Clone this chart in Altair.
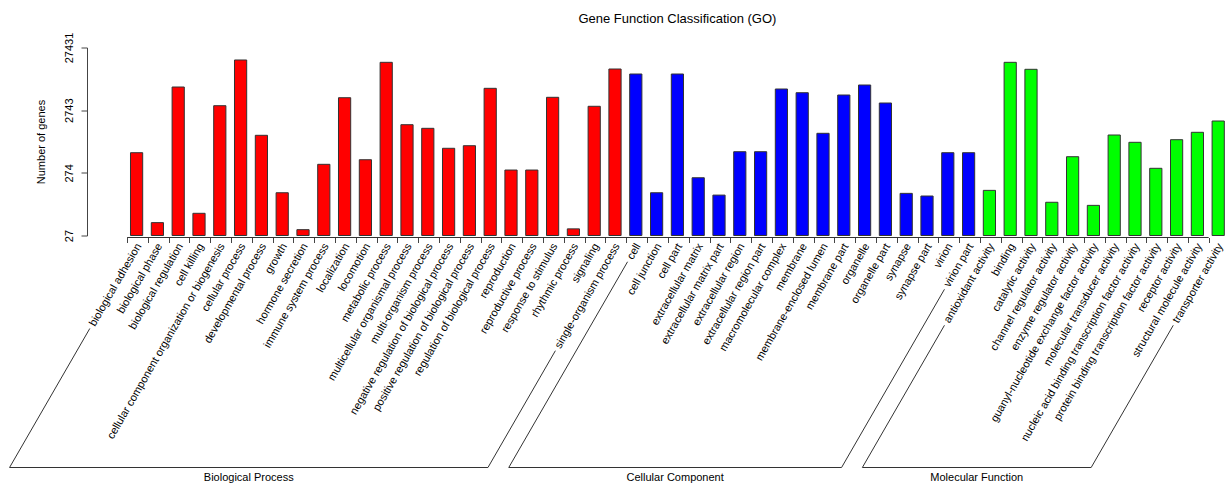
import math
import altair as alt
import pandas as pd

# ---------------- data ----------------
bp_names = [
    "biological adhesion", "biological phase", "biological regulation", "cell killing",
    "cellular component organization or biogenesis", "cellular process", "developmental process",
    "growth", "hormone secretion", "immune system process", "localization", "locomotion",
    "metabolic process", "multicellular organismal process", "multi-organism process",
    "negative regulation of biological process", "positive regulation of biological process",
    "regulation of biological process", "reproduction", "reproductive process",
    "response to stimulus", "rhythmic process", "signaling", "single-organism process",
]
bp_counts = [575, 44, 6425, 62, 3232, 17330, 1089, 132, 34, 375, 4335, 444,
             15916, 1608, 1408, 676, 743, 6123, 304, 304, 4400, 35, 3163, 12449]

cc_names = [
    "cell", "cell junction", "cell part", "extracellular matrix", "extracellular matrix part",
    "extracellular region", "extracellular region part", "macromolecular complex", "membrane",
    "membrane-enclosed lumen", "membrane part", "organelle", "organelle part", "synapse",
    "synapse part", "virion", "virion part",
]
cc_counts = [10358, 132, 10358, 229, 121, 596, 596, 5969, 5209, 1172, 4787, 6913, 3569,
             129, 117, 575, 575]

mf_names = [
    "antioxidant activity", "binding", "catalytic activity", "channel regulator activity",
    "enzyme regulator activity", "guanyl-nucleotide exchange factor activity",
    "molecular transducer activity", "nucleic acid binding transcription factor activity",
    "protein binding transcription factor activity", "receptor activity",
    "structural molecule activity", "transporter activity",
]
mf_counts = [144, 15916, 12308, 93, 496, 83, 1101, 842, 324, 927, 1216, 1842]

group_names = ["Biological Process", "Cellular Component", "Molecular Function"]
group_colors = ["#FF0000", "#0000FF", "#00FF00"]
y_tick_values = [27.431, 274.31, 2743.1, 27431.0]
title_text = "Gene Function Classification (GO)"
y_title = "Number of genes"

# ---------------- table ----------------
names = bp_names + cc_names + mf_names
counts = bp_counts + cc_counts + mf_counts
groups = ([group_names[0]] * len(bp_names) + [group_names[1]] * len(cc_names)
          + [group_names[2]] * len(mf_names))
n = len(names)
df = pd.DataFrame({"name": names, "count": counts, "group": groups})

# ---------------- layout / style ----------------
FONT = "Liberation Sans"
W, H = 1102.8, 188
PAD = {"left": 126, "top": 47.5, "right": 1232 - 126 - W, "bottom": 487 - 47.5 - H}
P_IN, P_OUT = 0.4135, 0.2163
step = W / (n - P_IN + 2 * P_OUT)
TICK_SHIFT = -9.5      # px, tick relative to bar centre
LABEL_SHIFT = 11.5     # px, label anchor relative to tick
X_AX_OFF = 2
TICK_SIZE = 5
LABEL_PAD = 1.5
LABEL_FS = 11
ANG = math.radians(60)
BRACKET_Y = 420        # px below plot top
GAP = 4
AXIS_COL = "#444444"

AFM = {" ": 278, "a": 556, "b": 556, "c": 500, "d": 556, "e": 556, "f": 278, "g": 556,
       "h": 556, "i": 222, "j": 222, "k": 500, "l": 222, "m": 833, "n": 556, "o": 556,
       "p": 556, "q": 556, "r": 333, "s": 500, "t": 278, "u": 556, "v": 500, "w": 722,
       "x": 500, "y": 500, "z": 500, "-": 333}


def text_w(s, fs):
    return sum(AFM.get(c, 556) for c in s) / 1000 * fs


def centre_u(i):
    return i + (1 - P_IN) / 2


anchor_y = H + X_AX_OFF + TICK_SIZE + LABEL_PAD


def slant(i):
    ax = centre_u(i) + (TICK_SHIFT + LABEL_SHIFT) / step
    L = text_w(names[i], LABEL_FS) + GAP
    tx = ax - L * math.cos(ANG) / step
    ty = anchor_y + L * math.sin(ANG)
    bx = tx - (BRACKET_Y - ty) / math.tan(ANG) / step
    return tx, ty, bx


segs = []
labels = []
start = 0
for g, size in zip(group_names, [len(bp_names), len(cc_names), len(mf_names)]):
    first, last = start, start + size - 1
    t1x, t1y, b1x = slant(first)
    t2x, t2y, b2x = slant(last)
    segs.append({"x": t1x, "x2": b1x, "y": t1y, "y2": BRACKET_Y})
    segs.append({"x": t2x, "x2": b2x, "y": t2y, "y2": BRACKET_Y})
    segs.append({"x": b1x, "x2": b2x, "y": BRACKET_Y, "y2": BRACKET_Y})
    labels.append({"x": (b1x + b2x) / 2, "y": BRACKET_Y + 10.5, "label": g})
    start += size

tick0 = centre_u(0) + TICK_SHIFT / step
tickN = centre_u(n - 1) + TICK_SHIFT / step
segs.append({"x": tick0, "x2": tickN, "y": H + X_AX_OFF, "y2": H + X_AX_OFF})

seg_df = pd.DataFrame(segs)
lab_df = pd.DataFrame(labels)

ux = alt.Scale(domain=[-P_OUT, n - P_IN + P_OUT], nice=False, zero=False)

bars = alt.Chart(df).mark_bar(stroke="#333333", strokeWidth=1).encode(
    x=alt.X("name:N", sort=names,
            scale=alt.Scale(paddingInner=P_IN, paddingOuter=P_OUT),
            axis=alt.Axis(title=None, labelAngle=300, labelAlign="right",
                          labelBaseline="middle", labelFontSize=LABEL_FS, labelFont=FONT,
                          labelColor="black", labelLimit=0, labelOverlap=False,
                          tickOffset=TICK_SHIFT, labelOffset=LABEL_SHIFT,
                          tickSize=TICK_SIZE, tickColor=AXIS_COL, domain=False,
                          labelPadding=LABEL_PAD, offset=X_AX_OFF)),
    y=alt.Y("count:Q",
            scale=alt.Scale(type="log", domain=[y_tick_values[0], y_tick_values[-1]], nice=False),
            axis=alt.Axis(values=y_tick_values, format="d", title=y_title, grid=False,
                          titleFontSize=11, titleFontWeight="normal", titleFont=FONT,
                          titleColor="black", titlePadding=17,
                          labelAngle=270, labelAlign="center", labelBaseline="alphabetic",
                          labelPadding=9, labelFontSize=11, labelFont=FONT, labelColor="black",
                          tickSize=6, tickColor=AXIS_COL, domainColor=AXIS_COL, offset=39)),
    y2=alt.datum(y_tick_values[0]),
    color=alt.Color("group:N", scale=alt.Scale(domain=group_names, range=group_colors),
                    legend=None),
)

rules = alt.Chart(seg_df).mark_rule(color="#333333", strokeWidth=1).encode(
    x=alt.X("x:Q", scale=ux, axis=None),
    x2="x2:Q",
    y=alt.Y("y:Q", scale=None, axis=None),
    y2="y2:Q",
)

texts = alt.Chart(lab_df).mark_text(font=FONT, fontSize=11, color="black",
                                    baseline="middle", align="center").encode(
    x=alt.X("x:Q", scale=ux, axis=None),
    y=alt.Y("y:Q", scale=None, axis=None),
    text="label:N",
)

chart = alt.layer(bars, rules, texts).resolve_scale(
    x="independent", y="independent"
).properties(
    width=W, height=H, autosize="none", padding=PAD,
    title=alt.TitleParams(text=title_text, fontSize=13, fontWeight="normal", font=FONT,
                          color="black", anchor="middle", frame="group", offset=6.5),
).configure_view(stroke=None)

chart.save("out.html", embed_options={"renderer": "svg", "actions": False})
